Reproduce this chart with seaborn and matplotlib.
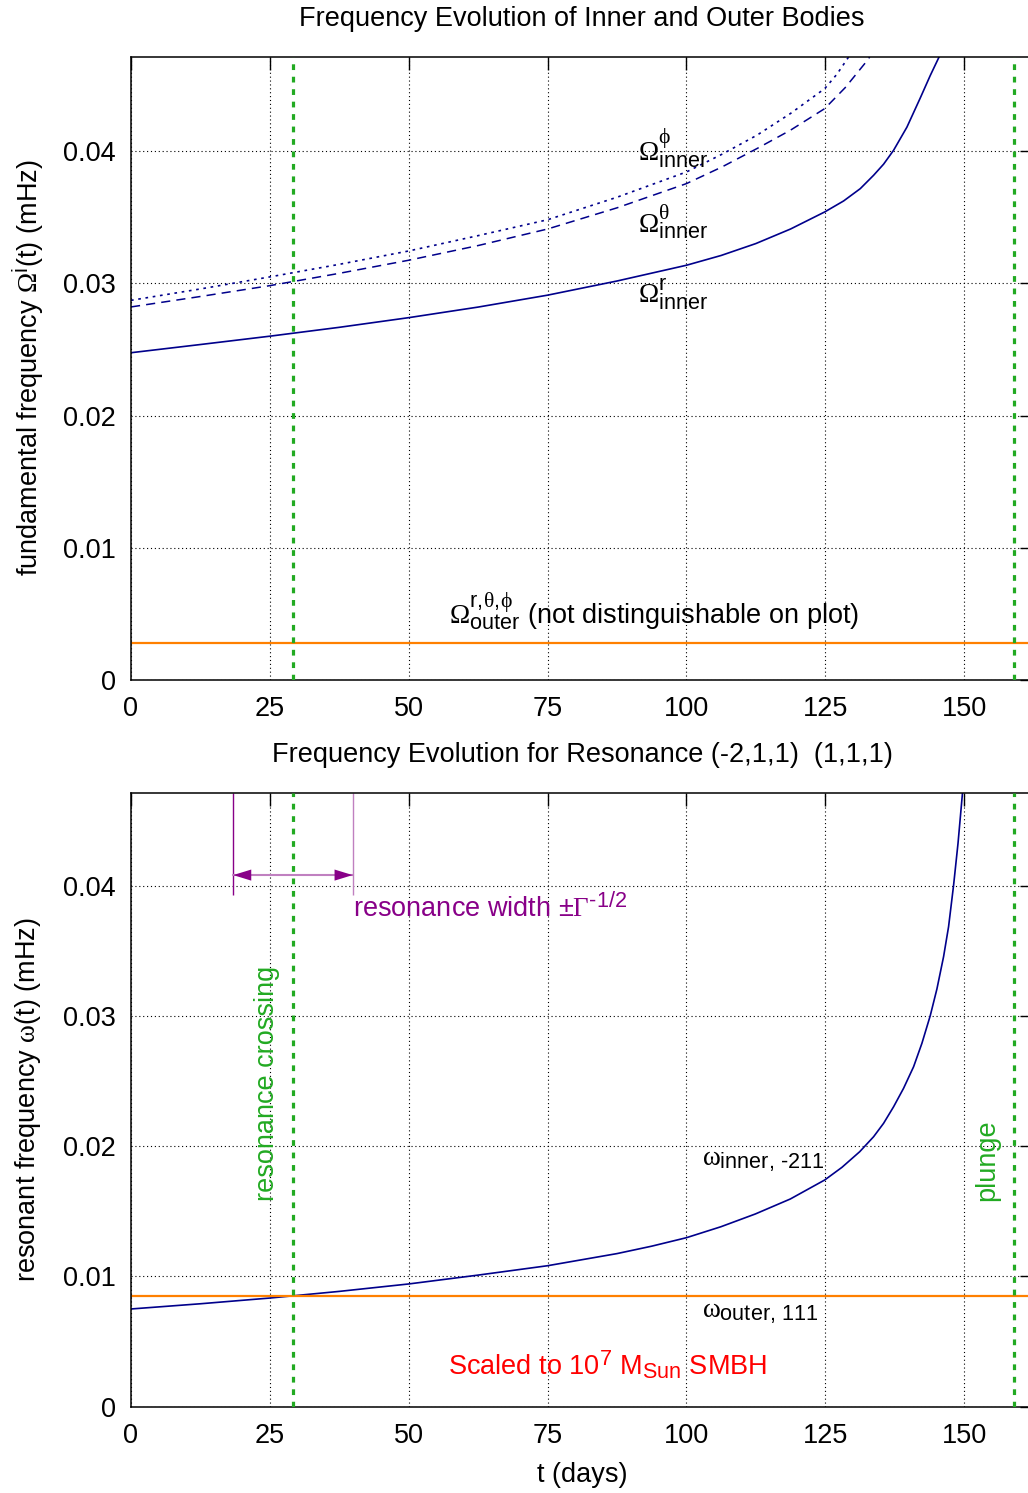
import seaborn as sns
import matplotlib.pyplot as plt
import matplotlib._mathtext as mathtext_internals
from matplotlib.pyplot import figure

# top panel: fundamental frequencies of the inner body (mHz) against t (days)
t_r = [0, 12.5, 25, 37.5, 50, 62.5, 75, 87.5, 100, 106.25, 112.5, 118.75, 124.9, 128.3, 131.3,
       133.7, 135.5, 137.3, 139.7, 142.1, 143.9, 145.6]
omega_r = [0.02475, 0.02537, 0.0260, 0.02667, 0.0274, 0.0282, 0.0291, 0.03017, 0.03136,
           0.0321, 0.0330, 0.0341, 0.03539, 0.03622, 0.03715, 0.03816, 0.0390, 0.04005, 0.0418,
           0.0440, 0.0457, 0.0472]

t_theta = [0, 12.5, 25, 37.5, 50, 62.5, 75, 87.5, 100, 106.4, 112.7, 118.7, 124.9, 128.6,
           132.2, 133.0]
omega_theta = [0.02821, 0.0290, 0.02982, 0.03075, 0.03174, 0.03285, 0.0341, 0.0357,
               0.03753, 0.03879, 0.04018, 0.04156, 0.0432, 0.04479, 0.04665, 0.0471]

t_phi = [0, 12.5, 25, 37.5, 50, 62.5, 75, 87.5, 100, 106.4, 112.7, 118.7, 124.9, 127.1, 129.2]
omega_phi = [0.02871, 0.02957, 0.03048, 0.03143, 0.03244, 0.0336, 0.0348, 0.0365,
             0.03841, 0.03975, 0.04119, 0.04282, 0.04471, 0.0458, 0.0471]

t_outer = [0, 165]
omega_outer = [0.00281, 0.00281]

# bottom panel: resonant frequencies (mHz)
t_res_inner = [0, 12.5, 25, 37.5, 50, 62.5, 75, 87.5, 93.75, 100, 106.2, 112.4, 118.7, 124.9,
               128.0, 131.2, 133.7, 135.5, 137.3, 139.1, 140.9, 142.4, 143.9, 145.1, 146.3,
               147.2, 148.1, 148.9, 149.7]
w_inner = [0.0075, 0.0079, 0.00834, 0.00885, 0.00942, 0.0101, 0.01082, 0.01175, 0.01232,
           0.01297, 0.01381, 0.01479, 0.01594, 0.0174, 0.01837, 0.01957, 0.02072, 0.02175,
           0.02302, 0.02444, 0.02609, 0.02789, 0.03001, 0.03206, 0.03454, 0.03684, 0.04001,
           0.04324, 0.04708]
t_res_outer = [0, 165]
w_outer = [0.00852, 0.00852]

t_crossing = 29.2
t_plunge = 159.0
width_t = [18.4, 39.9]
width_y = 0.0408
width_bottom = 0.0393

xticks = [0, 25, 50, 75, 100, 125, 150]
yticks = [0, 0.01, 0.02, 0.03, 0.04]
ytick_labels = ['0', '0.01', '0.02', '0.03', '0.04']

navy = '#00008b'
orange = '#ff8000'
green = '#22aa22'
purple = '#880088'
light_purple = '#c080c0'
FS = 19.5

sns.set_theme(style='white')
plt.rcParams['font.family'] = ['Liberation Sans', 'DejaVu Sans']
plt.rcParams['text.color'] = 'black'
plt.rcParams['axes.labelcolor'] = 'black'
plt.rcParams['mathtext.fontset'] = 'custom'
plt.rcParams['mathtext.rm'] = 'Liberation Sans'
plt.rcParams['mathtext.sf'] = 'Liberation Sans'
plt.rcParams['mathtext.it'] = 'Liberation Serif'
plt.rcParams['mathtext.cal'] = 'Liberation Serif'
# gnuplot-like sub/superscript size
mathtext_internals.SHRINK_FACTOR = 0.8

fig = figure(figsize=(10.28, 14.93), dpi=100)
W, H = 1028, 1493
ax1 = fig.add_axes([131 / W, 1 - 680.2 / H, (1033 - 131) / W, (680.2 - 57) / H])
ax2 = fig.add_axes([131 / W, 1 - 1406.7 / H, (1033 - 131) / W, (1406.7 - 793) / H])

for ax in (ax1, ax2):
    ax.set_xlim(0, 162.4)
    ax.set_ylim(0, 0.0471)
    ax.set_xticks(xticks)
    ax.set_yticks(yticks)
    ax.set_yticklabels(ytick_labels)
    ax.tick_params(direction='in', length=9.5, width=1, top=True, right=True,
                   labelsize=FS, colors='black')
    ax.tick_params(axis='x', pad=11.5)
    ax.tick_params(axis='y', pad=11)
    ax.grid(True, color='black', linestyle=(0, (1, 2.5)), linewidth=0.8)
    for s in ax.spines.values():
        s.set_color('black')
        s.set_linewidth(1.1)
    ax.set_axisbelow(True)
    ax.axvline(t_crossing, color=green, lw=2.3, linestyle=(0, (1.8, 2.1)), zorder=4)
    ax.axvline(t_plunge, color=green, lw=2.3, linestyle=(0, (1.8, 2.1)), zorder=4)

# top panel
sns.lineplot(x=t_phi, y=omega_phi, ax=ax1, color=navy, lw=1.2, linestyle=(0, (1.6, 2.8)), sort=False)
sns.lineplot(x=t_theta, y=omega_theta, ax=ax1, color=navy, lw=1.1, linestyle=(0, (6, 4)), sort=False)
sns.lineplot(x=t_r, y=omega_r, ax=ax1, color=navy, lw=1.2, sort=False)
sns.lineplot(x=t_outer, y=omega_outer, ax=ax1, color=orange, lw=1.6, sort=False)

ax1.text(91.2, 0.0392, r'$\mathcal{\Omega}^{\phi}_{\mathrm{inner}}$', fontsize=FS, va='baseline')
ax1.text(91.2, 0.0338, r'$\mathcal{\Omega}^{\theta}_{\mathrm{inner}}$', fontsize=FS, va='baseline')
ax1.text(91.2, 0.0285, r'$\mathcal{\Omega}^{\mathrm{r}}_{\mathrm{inner}}$', fontsize=FS, va='baseline')
ax1.text(57.3, 0.00432,
         r'$\mathcal{\Omega}^{\mathrm{r},\!\theta,\!\phi}_{\mathrm{outer}}$ (not distinguishable on plot)',
         fontsize=FS, va='baseline')

# bottom panel
sns.lineplot(x=t_res_inner, y=w_inner, ax=ax2, color=navy, lw=1.2, sort=False)
sns.lineplot(x=t_res_outer, y=w_outer, ax=ax2, color=orange, lw=1.6, sort=False)

ax2.vlines(width_t, width_bottom, 0.0471, colors=[purple, light_purple], lw=1.0)
ax2.plot(width_t, [width_y, width_y], color=light_purple, lw=1.5)
for end, start in ((width_t[0], width_t[0] + 3), (width_t[1], width_t[1] - 3)):
    ax2.annotate('', xy=(end, width_y), xytext=(start, width_y),
                 arrowprops=dict(arrowstyle='-|>,head_length=0.65,head_width=0.2',
                                 color=purple, lw=0, mutation_scale=20, shrinkA=0, shrinkB=0))
ax2.text(width_t[1], 0.0376, r'resonance width $\pm\mathcal{\Gamma}^{\text{-1/2}}$',
         fontsize=FS, color=purple, va='baseline')

ax2.text(24.5, 0.0248, 'resonance crossing', rotation=90, fontsize=FS, color=green,
         ha='center', va='center')
ax2.text(154.2, 0.0189, 'plunge', rotation=90, fontsize=FS, color=green,
         ha='center', va='center')
ax2.text(102.8, 0.01855, r'$\omega_{\text{inner, -211}}$', fontsize=FS, va='baseline')
ax2.text(102.8, 0.00688, r'$\omega_{\text{outer, 111}}$', fontsize=FS, va='baseline')
ax2.text(57.1, 0.00243, r'Scaled to 10$^{7}$ M$_{\mathrm{Sun}}$ SMBH', fontsize=FS,
         color='red', va='baseline')

fig.text(582 / W, 1 - 19 / H, 'Frequency Evolution of Inner and Outer Bodies', fontsize=FS,
         ha='center', va='center')
fig.text(582 / W, 1 - 755 / H, 'Frequency Evolution for Resonance (-2,1,1)  (1,1,1)', fontsize=FS,
         ha='center', va='center')
fig.text(582 / W, 1 - 1475 / H, 't (days)', fontsize=FS, ha='center', va='center')
fig.text(28 / W, 1 - 368 / H, r'fundamental frequency $\mathcal{\Omega}^{\mathrm{i}}$(t) (mHz)',
         fontsize=FS, rotation=90, ha='center', va='center')
fig.text(28 / W, 1 - 1100 / H, r'resonant frequency $\omega$(t) (mHz)', fontsize=FS,
         rotation=90, ha='center', va='center')

plt.savefig('out.png', dpi=100)
